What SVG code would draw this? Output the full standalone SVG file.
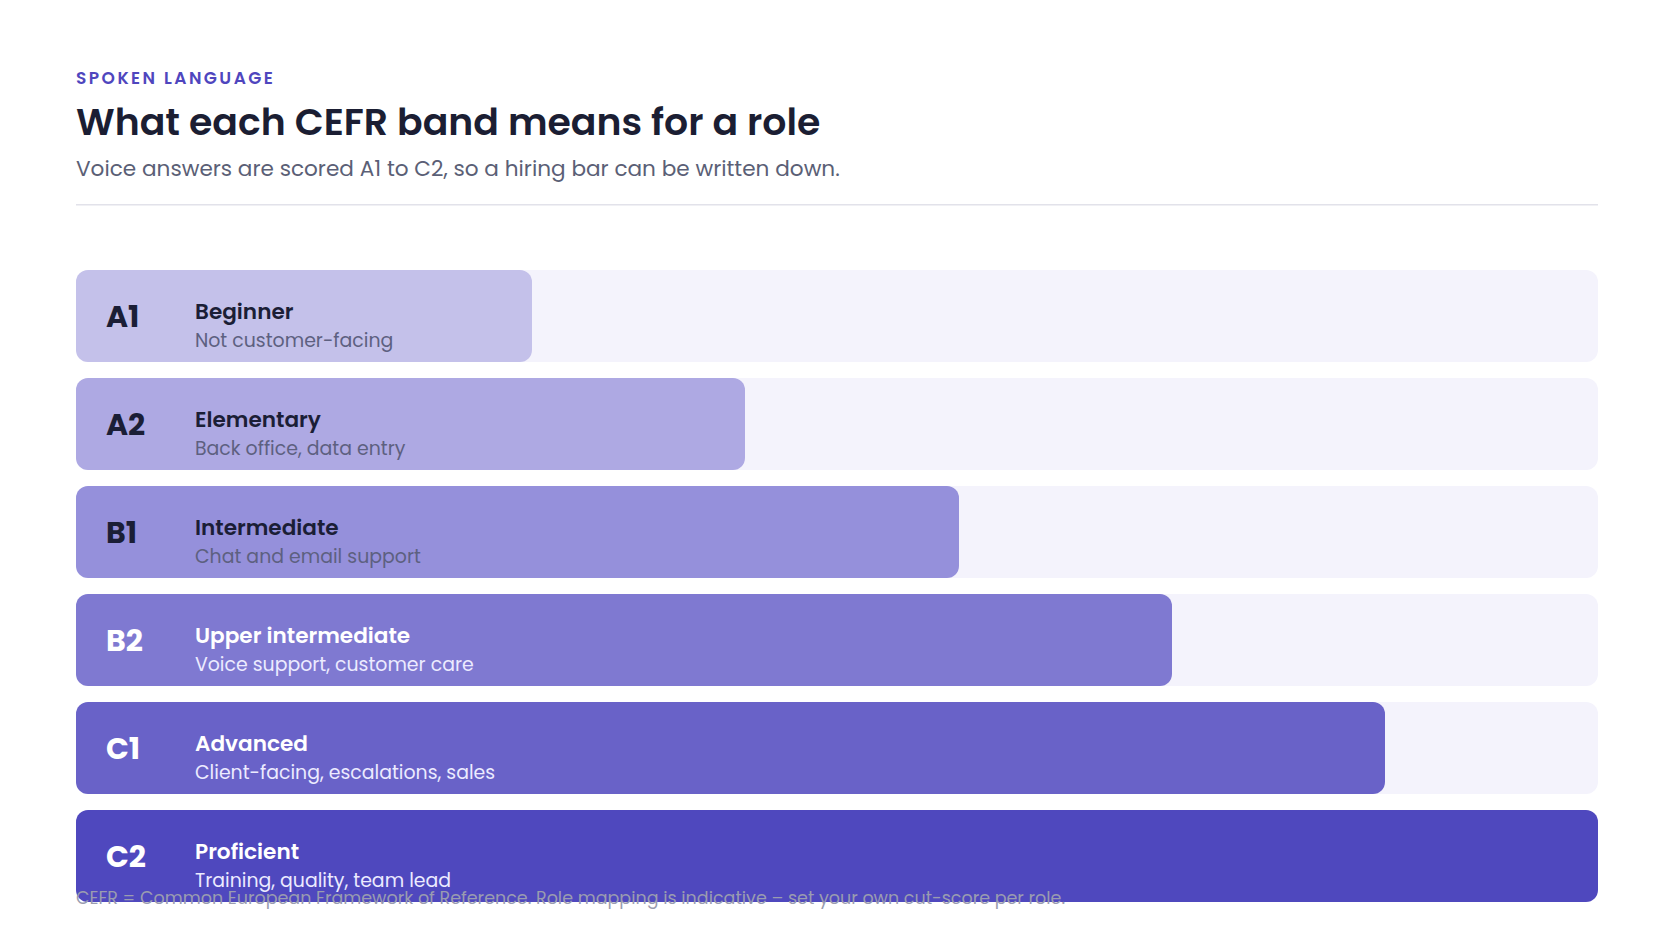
<svg xmlns="http://www.w3.org/2000/svg" width="1674" height="945" viewBox="0 0 1674 945">
  <style>
    text { font-family: Poppins, Inter, "Open Sans", "Liberation Sans", sans-serif; }
    .eyebrow { font-size: 17px; font-weight: 600; letter-spacing: 2.45px; fill: #4f46be; }
    .title { font-size: 37.8px; font-weight: 600; fill: #1b1e33; }
    .sub { font-size: 21.6px; font-weight: 400; fill: #5b5f76; }
    .track { fill: #f4f3fc; }
    .code { font-size: 30px; font-weight: 700; }
    .name { font-size: 21.6px; font-weight: 600; }
    .desc { font-size: 18.9px; font-weight: 400; }
    .dark .code, .dark .name { fill: #1b1e36; }
    .dark .desc { fill: #5d6080; }
    .light .code, .light .name { fill: #ffffff; }
    .light .desc { fill: #ecebff; }
    .foot { font-size: 17.5px; font-weight: 400; fill: #9a9cb0; }
  </style>

  <rect x="0" y="0" width="1674" height="945" fill="#ffffff"/>

  <g id="header">
    <text class="eyebrow" x="76" y="84">SPOKEN LANGUAGE</text>
    <text class="title" x="76" y="135">What each CEFR band means for a role</text>
    <text class="sub" x="76" y="176">Voice answers are scored A1 to C2, so a hiring bar can be written down.</text>
    <rect x="76" y="204" width="1522" height="1.5" fill="#e2e2ea"/>
  </g>

  <g id="band-A1" class="dark">
    <rect class="track" x="76" y="270" width="1522" height="92" rx="12"/>
    <rect x="76" y="270" width="456" height="92" rx="12" fill="#c4c1ea"/>
    <text class="code" x="106" y="327">A1</text>
    <text class="name" x="195" y="319">Beginner</text>
    <text class="desc" x="195" y="347">Not customer-facing</text>
  </g>

  <g id="band-A2" class="dark">
    <rect class="track" x="76" y="378" width="1522" height="92" rx="12"/>
    <rect x="76" y="378" width="669" height="92" rx="12" fill="#aea9e3"/>
    <text class="code" x="106" y="435">A2</text>
    <text class="name" x="195" y="427">Elementary</text>
    <text class="desc" x="195" y="455">Back office, data entry</text>
  </g>

  <g id="band-B1" class="dark">
    <rect class="track" x="76" y="486" width="1522" height="92" rx="12"/>
    <rect x="76" y="486" width="883" height="92" rx="12" fill="#9590db"/>
    <text class="code" x="106" y="543">B1</text>
    <text class="name" x="195" y="535">Intermediate</text>
    <text class="desc" x="195" y="563">Chat and email support</text>
  </g>

  <g id="band-B2" class="light">
    <rect class="track" x="76" y="594" width="1522" height="92" rx="12"/>
    <rect x="76" y="594" width="1096" height="92" rx="12" fill="#7f79d1"/>
    <text class="code" x="106" y="651">B2</text>
    <text class="name" x="195" y="643">Upper intermediate</text>
    <text class="desc" x="195" y="671">Voice support, customer care</text>
  </g>

  <g id="band-C1" class="light">
    <rect class="track" x="76" y="702" width="1522" height="92" rx="12"/>
    <rect x="76" y="702" width="1309" height="92" rx="12" fill="#6962c8"/>
    <text class="code" x="106" y="759">C1</text>
    <text class="name" x="195" y="751">Advanced</text>
    <text class="desc" x="195" y="779">Client-facing, escalations, sales</text>
  </g>

  <g id="band-C2" class="light">
    <rect class="track" x="76" y="810" width="1522" height="92" rx="12"/>
    <rect x="76" y="810" width="1522" height="92" rx="12" fill="#4f48be"/>
    <text class="code" x="106" y="867">C2</text>
    <text class="name" x="195" y="859">Proficient</text>
    <text class="desc" x="195" y="887">Training, quality, team lead</text>
  </g>

  <g id="connectors"/>

  <g id="footer">
    <text class="foot" x="76" y="904">CEFR = Common European Framework of Reference. Role mapping is indicative – set your own cut-score per role.</text>
  </g>
</svg>
